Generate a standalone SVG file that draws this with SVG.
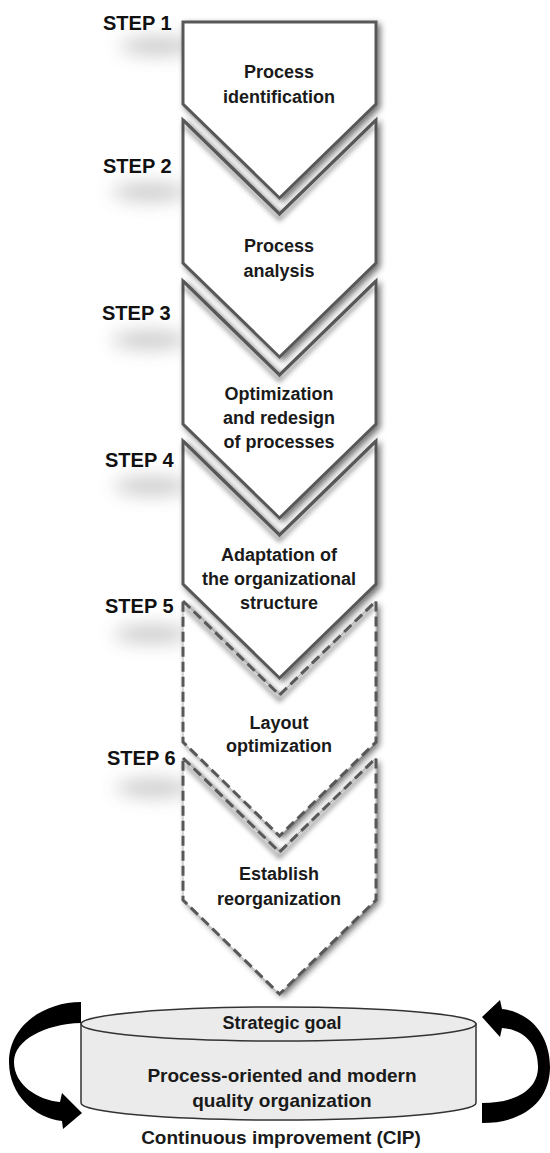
<svg xmlns="http://www.w3.org/2000/svg" width="550" height="1153" viewBox="0 0 550 1153">
  <defs>
    <filter id="drop" x="-20%" y="-20%" width="150%" height="150%">
      <feGaussianBlur in="SourceAlpha" stdDeviation="3"/>
      <feOffset dx="3" dy="3" result="blur"/>
      <feComponentTransfer><feFuncA type="linear" slope="0.55"/></feComponentTransfer>
      <feMerge><feMergeNode/><feMergeNode in="SourceGraphic"/></feMerge>
    </filter>
    <filter id="soft" x="-50%" y="-50%" width="200%" height="200%">
      <feGaussianBlur stdDeviation="2.5"/>
    </filter>
    <filter id="haze" x="-100%" y="-200%" width="300%" height="500%">
      <feGaussianBlur stdDeviation="9"/>
    </filter>
    <style>
      .step { font-family: "Liberation Sans", Arial, sans-serif; font-weight: bold; font-size: 20px; fill: #111; }
      .lbl { font-family: "Liberation Sans", Arial, sans-serif; font-weight: bold; font-size: 18px; fill: #1a1a1a; text-anchor: middle; }
      .big { font-size: 19px; }
      .solid { fill: #fff; stroke: #585858; stroke-width: 3; stroke-linejoin: miter; }
      .dashbase { fill: #fff; stroke: #b4b4b4; stroke-width: 1; }
      .dash { fill: none; stroke: #585858; stroke-width: 3; stroke-dasharray: 10 5; }
      .nshadow { fill: none; stroke: #000; stroke-opacity: 0.4; stroke-width: 4; filter: url(#soft); }
      .blob { fill: #8a8a8a; opacity: 0.45; filter: url(#haze); }
      .cyl { fill: #ebebeb; stroke: #333; stroke-width: 1.5; }
      .arrow { fill: #000; }
    </style>
  </defs>

  <!-- soft shadows beneath the step labels -->
  <g id="label-shadows">
    <ellipse class="blob" cx="158" cy="46" rx="38" ry="9"/>
    <ellipse class="blob" cx="150" cy="192" rx="38" ry="9"/>
    <ellipse class="blob" cx="150" cy="340" rx="38" ry="9"/>
    <ellipse class="blob" cx="152" cy="486" rx="38" ry="9"/>
    <ellipse class="blob" cx="152" cy="634" rx="38" ry="9"/>
    <ellipse class="blob" cx="154" cy="788" rx="38" ry="9"/>
  </g>

  <!-- step labels -->
  <g id="step-labels">
    <text class="step" x="103" y="30">STEP 1</text>
    <text class="step" x="103" y="173">STEP 2</text>
    <text class="step" x="102" y="320">STEP 3</text>
    <text class="step" x="105" y="467">STEP 4</text>
    <text class="step" x="105" y="613">STEP 5</text>
    <text class="step" x="107" y="765">STEP 6</text>
  </g>

  <!-- chevron column -->
  <g id="step1">
    <path class="solid" filter="url(#drop)" d="M183,22 L376,22 L376,104 L279.5,198 L183,104 Z"/>
    <text class="lbl" x="279" y="78">Process</text>
    <text class="lbl" x="279" y="103">identification</text>
  </g>
  <g id="step2">
    <path class="solid" filter="url(#drop)" d="M183,120 L279.5,214 L376,120 L376,263 L279.5,357 L183,263 Z"/>
    <polyline class="nshadow" points="185,126 279.5,219 374,126"/>
    <path fill="none" stroke="#585858" stroke-width="3" d="M183,120 L279.5,214 L376,120"/>
    <text class="lbl" x="279" y="252">Process</text>
    <text class="lbl" x="279" y="277">analysis</text>
  </g>
  <g id="step3">
    <path class="solid" filter="url(#drop)" d="M183,281 L279.5,375 L376,281 L376,424 L279.5,518 L183,424 Z"/>
    <polyline class="nshadow" points="185,287 279.5,380 374,287"/>
    <path fill="none" stroke="#585858" stroke-width="3" d="M183,281 L279.5,375 L376,281"/>
    <text class="lbl" x="279" y="400">Optimization</text>
    <text class="lbl" x="279" y="424">and redesign</text>
    <text class="lbl" x="279" y="448">of processes</text>
  </g>
  <g id="step4">
    <path class="solid" filter="url(#drop)" d="M183,441 L279.5,535 L376,441 L376,584 L279.5,678 L183,584 Z"/>
    <polyline class="nshadow" points="185,447 279.5,540 374,447"/>
    <path fill="none" stroke="#585858" stroke-width="3" d="M183,441 L279.5,535 L376,441"/>
    <text class="lbl" x="279" y="561">Adaptation of</text>
    <text class="lbl" x="279" y="585">the organizational</text>
    <text class="lbl" x="279" y="609">structure</text>
  </g>
  <g id="step5">
    <path class="dashbase" filter="url(#drop)" d="M183,601 L279.5,695 L376,601 L376,742 L279.5,836 L183,742 Z"/>
    <polyline class="nshadow" points="185,607 279.5,700 374,607"/>
    <path class="dash" d="M183,601 L279.5,695 L376,601 L376,742 L279.5,836 L183,742 Z"/>
    <text class="lbl" x="279" y="729">Layout</text>
    <text class="lbl" x="279" y="752">optimization</text>
  </g>
  <g id="step6">
    <path class="dashbase" filter="url(#drop)" d="M183,758 L279.5,852 L376,758 L376,900 L279.5,994 L183,900 Z"/>
    <polyline class="nshadow" points="185,764 279.5,857 374,764"/>
    <path class="dash" d="M183,758 L279.5,852 L376,758 L376,900 L279.5,994 L183,900 Z"/>
    <text class="lbl" x="279" y="880">Establish</text>
    <text class="lbl" x="279" y="905">reorganization</text>
  </g>

  <!-- goal cylinder -->
  <g id="goal">
    <path class="cyl" d="M81,1024 L81,1103 A197.5,17 0 0 0 476,1103 L476,1024 Z"/>
    <ellipse class="cyl" cx="278.5" cy="1024" rx="197.5" ry="17"/>
    <text class="lbl" x="282" y="1029">Strategic goal</text>
    <text class="lbl big" x="282" y="1082">Process-oriented and modern</text>
    <text class="lbl big" x="282" y="1107">quality organization</text>
  </g>

  <!-- improvement loop arrows -->
  <g id="connectors">
    <path class="arrow" d="M81,1002 C45,1002 9,1025 9,1062 C9,1095 35,1118 62,1121 L63,1129 L82,1113 L62,1093 L60,1102 C38,1100 14,1085 14,1062 C14,1040 45,1024 81,1023 Z"/>
    <path class="arrow" d="M482,1017 L500,1000 L502,1009 C530,1012 550,1035 550,1067 C550,1100 525,1123 482,1123 L482,1103 C515,1103 538,1090 538,1067 C538,1045 525,1030 502,1028 L500,1037 Z"/>
  </g>

  <g id="cip">
    <text class="lbl big" x="281" y="1144">Continuous improvement (CIP)</text>
  </g>
</svg>
